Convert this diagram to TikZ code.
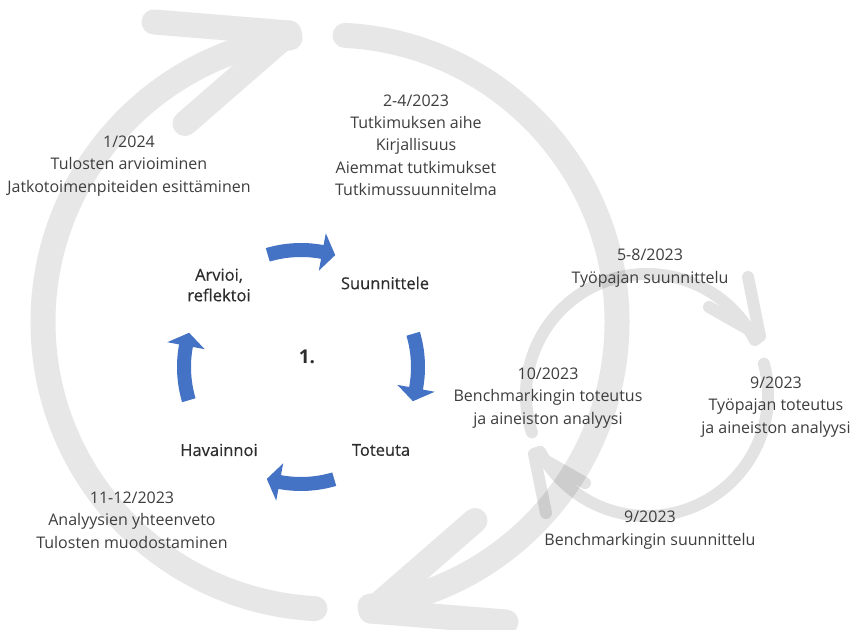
\documentclass[tikz,border=0pt]{standalone}
\usepackage{fontspec}
\setmainfont{Open Sans}
\newfontfamily\labfont[FakeBold=0.4]{Open Sans}
\usetikzlibrary{calc}
\definecolor{arcgray}{RGB}{231,231,231}
\definecolor{cycblue}{RGB}{68,114,196}
\definecolor{txtgray}{RGB}{62,62,62}
\definecolor{labgray}{RGB}{45,45,45}
\begin{document}
\begin{tikzpicture}[x=1pt,y=1pt,
  datetxt/.style={align=center, text=txtgray, inner sep=0pt, font=\fontsize{16}{22.3}\selectfont},
  labtxt/.style={align=center, text=labgray, inner sep=0pt, font=\labfont\fontsize{16.5}{20.5}\selectfont},
  bigarc/.style={draw=arcgray, line width=25pt, line cap=round, line join=round},
  smallarc/.style={draw=black, draw opacity=0.11, line width=12pt, line cap=round, line join=round},
  cycarrow/.style={fill=cycblue, draw=none}]
\useasboundingbox (0,0) rectangle (851,629);
\fill[white] (0,0) rectangle (851,629);

% big outer cycle
\coordinate (B) at (330,307);
\begin{scope}[shift={(B)}]
  \draw[bigarc] (87:287) arc[start angle=87, end angle=-82, radius=287] -- (41,-289) coordinate (tipR);
  \draw[bigarc] (145,-198.5) -- (tipR) -- (176,-300);
  \draw[bigarc] (267:287) arc[start angle=267, end angle=98, radius=287] -- (-41,289) coordinate (tipL);
  \draw[bigarc] (-145,198.5) -- (tipL) -- (-176,300);
\end{scope}

% small cycle
\coordinate (S) at (647,234);
\begin{scope}[shift={(S)}]
  \draw[smallarc] (198:121) arc[start angle=198, end angle=27, radius=121] -- (113,59) coordinate (tipU)
     (62,88) -- (tipU) -- (101,118);
  \draw[smallarc] (15:121) arc[start angle=15, end angle=-152, radius=121] -- (-113,-59) coordinate (tipD)
     (-62,-88) -- (tipD) -- (-101,-118);
\end{scope}

% inner blue cycle
\coordinate (C) at (301,262);
\begin{scope}[shift={(C)}]
  \foreach \c in {90,0,-90,180} {
    \pgfmathsetmacro\ta{\c+16.5}
    \pgfmathsetmacro\hb{\c-10.5}
    \pgfmathsetmacro\tp{\c-17}
    \fill[cycarrow] (\ta:124) arc[start angle=\ta, end angle=\hb, radius=124]
      -- (\hb:136) -- (\tp:117) -- (\hb:98) -- (\hb:110)
      arc[start angle=\hb, end angle=\ta, radius=110] -- cycle;
  }
\end{scope}

% inner labels
\node[labtxt] (lArv) at (219,344) {Arvioi,\\reflektoi};
\node[labtxt] (lSuu) at (385,346) {Suunnittele};
\node[labtxt, font=\bfseries\fontsize{19}{20}\selectfont] (lOne) at (307,272) {1.};
\node[labtxt] (lHav) at (219,179) {Havainnoi};
\node[labtxt] (lTot) at (381,179) {Toteuta};

% date texts
\node[datetxt] (d1) at (416,484) {2-4/2023\\Tutkimuksen aihe\\Kirjallisuus\\Aiemmat tutkimukset\\Tutkimussuunnitelma};
\node[datetxt] (d2) at (129,463) {1/2024\\Tulosten arvioiminen\\Jatkotoimenpiteiden esittäminen};
\node[datetxt] (d3) at (650,361) {5-8/2023\\Työpajan suunnittelu};
\node[datetxt] (d4) at (776,222) {9/2023\\Työpajan toteutus\\ja aineiston analyysi};
\node[datetxt] (d5) at (548,231) {10/2023\\Benchmarkingin toteutus\\ja aineiston analyysi};
\node[datetxt] (d6) at (650,99) {9/2023\\Benchmarkingin suunnittelu};
\node[datetxt] (d7) at (132,109) {11-12/2023\\Analyysien yhteenveto\\Tulosten muodostaminen};
\end{tikzpicture}
\end{document}
